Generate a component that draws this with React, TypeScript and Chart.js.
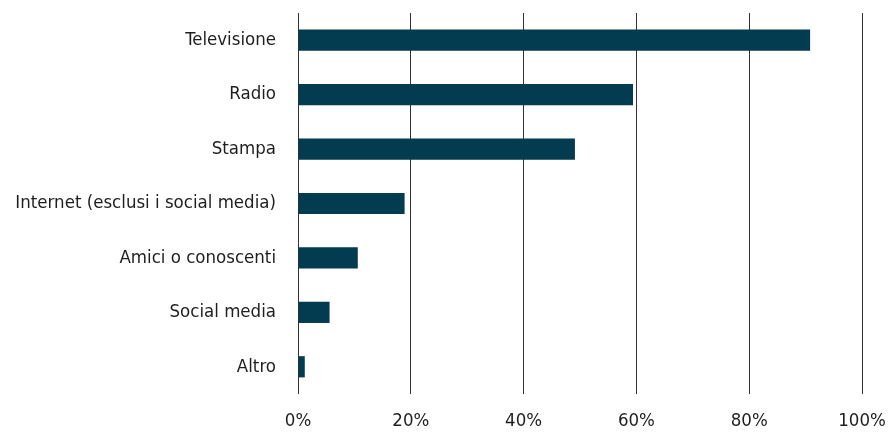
import React, { useEffect, useRef } from "react";
import { Chart, registerables } from "chart.js";

Chart.register(...registerables);

const categories = [
  "Televisione",
  "Radio",
  "Stampa",
  "Internet (esclusi i social media)",
  "Amici o conoscenti",
  "Social media",
  "Altro",
];
const values = [90.8, 59.4, 49.1, 18.9, 10.6, 5.6, 1.2];
const xTicks = [0, 20, 40, 60, 80, 100];

const FONT = "'DejaVu Sans Condensed', 'DejaVu Sans', sans-serif";

export default function App() {
  const ref = useRef<HTMLCanvasElement | null>(null);
  useEffect(() => {
    document.body.style.margin = "0";
    const chart = new Chart(ref.current!, {
      type: "bar",
      data: {
        labels: categories,
        datasets: [
          {
            data: values,
            backgroundColor: "#033b50",
            borderWidth: 0,
            barPercentage: 0.39,
            categoryPercentage: 1,
          },
        ],
      },
      options: {
        indexAxis: "y",
        animation: false,
        responsive: true,
        maintainAspectRatio: false,
        layout: { padding: { left: 0, right: 31, top: 13, bottom: 0 } },
        plugins: { legend: { display: false }, tooltip: { enabled: false } },
        scales: {
          x: {
            min: 0,
            max: 100,
            afterBuildTicks: (s: any) => {
              s.ticks = xTicks.map((v) => ({ value: v }));
            },
            afterFit: (s: any) => {
              s.height = 39;
              s.paddingLeft = 0;
              s.paddingRight = 0;
            },
            grid: { color: "#333", lineWidth: 1, drawTicks: false },
            border: { display: false },
            ticks: {
              padding: 16,
              color: "#1e1e1e",
              font: { family: FONT, size: 18.5 },
              callback: (v: any) => v + "%",
            },
          },
          y: {
            afterFit: (s: any) => {
              s.width = 298;
              s.paddingTop = 0;
              s.paddingBottom = 0;
            },
            grid: { display: false, drawTicks: false },
            border: { display: false },
            ticks: {
              padding: 22,
              color: "#1e1e1e",
              font: { family: FONT, size: 18.5 },
            },
          },
        },
      },
    });
    return () => chart.destroy();
  }, []);
  return (
    <div style={{ position: "absolute", left: 0, top: 0, width: 893, height: 433, background: "#fff" }}>
      <canvas ref={ref} />
    </div>
  );
}
